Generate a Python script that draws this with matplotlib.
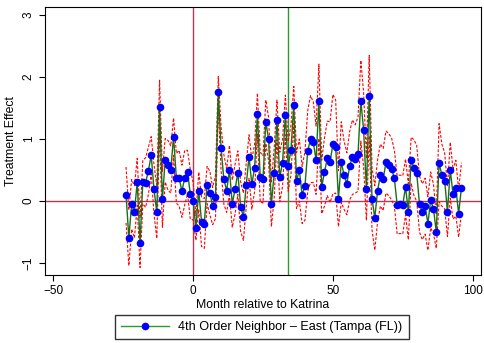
import matplotlib
matplotlib.use("Agg")
import matplotlib.pyplot as plt
import numpy as np
from matplotlib.lines import Line2D

plt.rcParams['font.family'] = ['Liberation Sans', 'DejaVu Sans']

months = list(range(-24, 97))
effect = [
    0.10, -0.59, -0.05, -0.17, 0.31, -0.67, 0.31, 0.30, 0.49, 0.74,   # -24..-15
    0.19, -0.18, 1.52, 0.03, 0.66, 0.58, 0.51, 1.04, 0.37, 0.37,       # -14..-5
    0.16, 0.38, 0.47, 0.11,                                            # -4..-1
    0.00, -0.43, 0.17, -0.33, -0.36, 0.26, 0.13, -0.08, 0.07, 1.76,    # 0..9
    0.85, 0.35, 0.17, 0.50, -0.04, 0.19, 0.46, -0.09, -0.25, 0.26,     # 10..19
    0.72, 0.27, 0.54, 1.41, 0.39, 0.35, 1.28, 1.00, -0.05, 0.45,       # 20..29
    1.31, 0.39, 0.62, 1.39, 0.56, 0.82, 1.55, 0.33, 0.50, 0.10,        # 30..39
    0.24, 0.81, 1.00, 0.95, 0.66, 1.61, 0.23, 0.47, 0.69, 0.63,        # 40..49
    0.92, 0.88, 0.04, 0.63, 0.42, 0.28, 0.57, 0.71, 0.68, 0.76,        # 50..59
    1.62, 1.15, 0.19, 1.70, 0.04, -0.27, 0.17, 0.42, 0.35, 0.63,       # 60..69
    0.59, 0.52, 0.37, -0.06, -0.05, -0.06, 0.23, -0.17, 0.66, 0.54,    # 70..79
    0.45, -0.05, -0.17, -0.08, -0.36, 0.02, -0.13, -0.49, 0.62, 0.42,  # 80..89
    0.33, -0.17, 0.50, 0.11, 0.21, -0.20, 0.22,                        # 90..96
]
ci_halfwidth = [
    0.45, 0.45, 0.40, 0.42, 0.38, 0.40, 0.35, 0.40, 0.38, 0.30,
    0.40, 0.42, 0.43, 0.45, 0.35, 0.40, 0.38, 0.30, 0.40, 0.45,
    0.42, 0.44, 0.35, 0.40,
    0.30, 0.20, 0.30, 0.40, 0.40, 0.30, 0.35, 0.30, 0.35, 0.25,
    0.35, 0.40, 0.35, 0.40, 0.38, 0.40, 0.35, 0.40, 0.38, 0.35,
    0.35, 0.40, 0.38, 0.33, 0.40, 0.38, 0.35, 0.35, 0.36, 0.40,
    0.32, 0.40, 0.38, 0.32, 0.40, 0.40, 0.30, 0.45, 0.50, 0.46,
    0.55, 0.65, 0.70, 0.65, 0.55, 0.60, 0.43, 0.55, 0.60, 0.65,
    0.80, 0.75, 0.45, 0.65, 0.55, 0.50, 0.55, 0.60, 0.55, 0.60,
    0.65, 0.60, 0.50, 0.65, 0.50, 0.52, 0.50, 0.50, 0.50, 0.50,
    0.50, 0.50, 0.45, 0.47, 0.47, 0.47, 0.45, 0.45, 0.37, 0.45,
    0.45, 0.45, 0.45, 0.45, 0.43, 0.45, 0.40, 0.27, 0.63, 0.50,
    0.45, 0.40, 0.45, 0.40, 0.45, 0.38, 0.40,
]
event_month = 0
policy_month = 34
legend_label = "4th Order Neighbor \u2013 East (Tampa (FL))"

x = np.array(months)
y = np.array(effect)
hw = np.array(ci_halfwidth)

fig = plt.figure(figsize=(4.85, 3.43), dpi=100)
ax = fig.add_axes([45/485, 1-275/343, (481-45)/485, (275-7)/343])

ax.axhline(0, color='#b5385a', lw=1.0, zorder=1)
ax.axvline(event_month, color='#b5385a', lw=1.0, zorder=1)
ax.axvline(policy_month, color='#2a9a2a', lw=1.0, zorder=1)

ax.plot(x, y + hw, color='red', ls=(0, (2.5, 1.5)), lw=0.8, zorder=2)
ax.plot(x, y - hw, color='red', ls=(0, (2.5, 1.5)), lw=0.8, zorder=2)
ax.plot(x, y, color='#1a6e1a', lw=1.0, marker='o', ms=4.5,
        mfc='blue', mec='blue', zorder=3)

ax.set_xlim(-53, 103)
ax.set_ylim(-1.19, 3.13)
ax.set_xticks([-50, 0, 50, 100])
ax.set_yticks([-1, 0, 1, 2, 3])
ax.tick_params(labelsize=8.5, length=4, width=0.8)
for lbl in ax.get_yticklabels():
    lbl.set_rotation(90)
    lbl.set_va('center')
ax.set_xlabel("Month relative to Katrina", fontsize=8.8, labelpad=1)
ax.set_ylabel("Treatment Effect", fontsize=8.8, labelpad=4)
for s in ax.spines.values():
    s.set_linewidth(0.8)

handle = Line2D([], [], color='#2a9a2a', lw=1.0, marker='o', ms=4.5,
                mfc='blue', mec='blue')
fig.legend([handle], [legend_label], loc='center', bbox_to_anchor=(262/485, 1-327/343),
           fontsize=9.1, frameon=True, fancybox=False, edgecolor='black',
           handlelength=3.8, borderpad=0.5, handletextpad=0.7)

fig.savefig("out.png", dpi=100)
